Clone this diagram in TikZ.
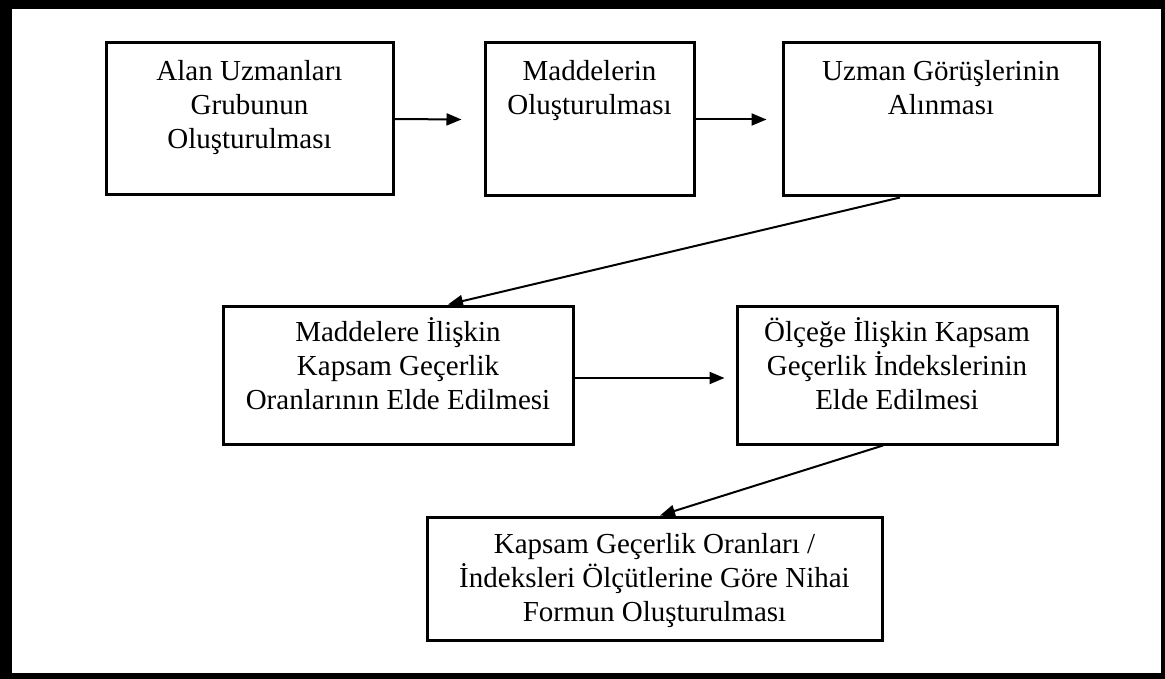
\documentclass[tikz,border=0pt]{standalone}
\usepackage{fontspec}
\setmainfont{Liberation Serif}
\usetikzlibrary{arrows.meta}
\begin{document}
\begin{tikzpicture}[x=1pt,y=-1pt,
  stepbox/.style={draw=black, line width=3pt, inner sep=0pt, fill=white},
  steptext/.style={anchor=north, inner sep=0pt, align=center,
    font=\fontsize{29}{34}\selectfont},
  flow/.style={draw=black, line width=2pt, -{Triangle[length=15pt,width=12pt]}}]
% page with its thick black frame
\useasboundingbox (0,0) rectangle (1165,679);
\fill[black] (0,0) rectangle (1165,679);
\fill[white] (12,9) rectangle (1161,673);

% boxes
\node[stepbox, minimum width=287pt, minimum height=152pt] (b1) at (249.5,119) {};
\node[stepbox, minimum width=209pt, minimum height=153pt] (b2) at (589.5,119.5) {};
\node[stepbox, minimum width=316pt, minimum height=153pt] (b3) at (941,119.5) {};
\node[stepbox, minimum width=350pt, minimum height=138pt] (b4) at (398,375) {};
\node[stepbox, minimum width=320pt, minimum height=138pt] (b5) at (897,375) {};
\node[stepbox, minimum width=455pt, minimum height=123pt] (b6) at (654.5,578.5) {};

% box texts
\node[steptext] (t1) at ([yshift=-13pt]b1.north) {\rule{0pt}{26pt}Alan Uzmanları\\Grubunun\\Oluşturulması};
\node[steptext] (t2) at ([yshift=-13pt]b2.north) {\rule{0pt}{26pt}Maddelerin\\Oluşturulması};
\node[steptext] (t3) at ([yshift=-13pt]b3.north) {\rule{0pt}{26pt}Uzman Görüşlerinin\\Alınması};
\node[steptext] (t4) at ([yshift=-11pt]b4.north) {\rule{0pt}{26pt}Maddelere İlişkin\\Kapsam Geçerlik\\Oranlarının Elde Edilmesi};
\node[steptext] (t5) at ([yshift=-11pt]b5.north) {\rule{0pt}{26pt}Ölçeğe İlişkin Kapsam\\Geçerlik İndekslerinin\\Elde Edilmesi};
\node[steptext] (t6) at ([yshift=-12pt]b6.north) {\rule{0pt}{26pt}Kapsam Geçerlik Oranları /\\İndeksleri Ölçütlerine Göre Nihai\\Formun Oluşturulması};

% connectors
\draw[flow] (b1.east) -- ([xshift=-22pt]b2.west);
\draw[flow] (b2.east) -- ([xshift=-15pt]b3.west);
\draw[flow] ([xshift=-41pt]b3.south) -- ([xshift=50pt]b4.north);
\draw[flow] ([yshift=-3pt]b4.east) -- ([xshift=-11pt,yshift=-3pt]b5.west);
\draw[flow] ([xshift=-14pt]b5.south) -- ([xshift=5.5pt]b6.north);
\end{tikzpicture}
\end{document}
